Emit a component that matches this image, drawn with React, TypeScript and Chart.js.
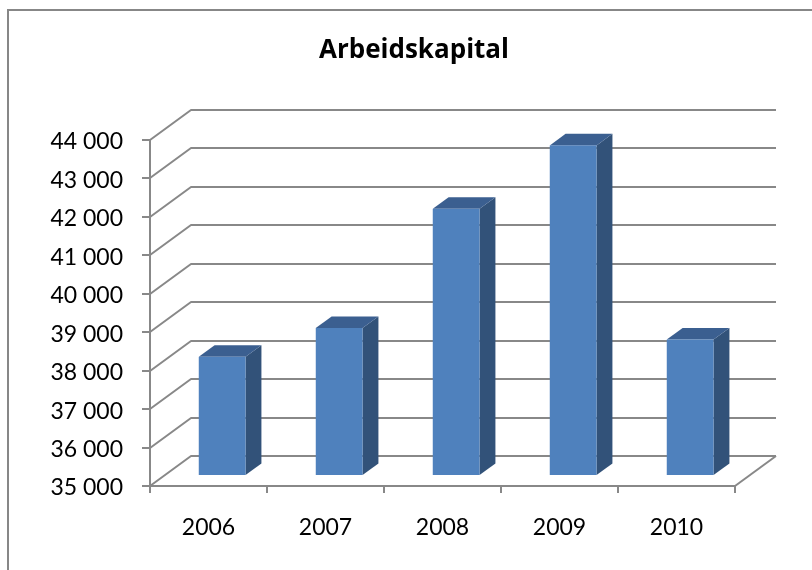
import React, { useEffect, useRef } from 'react';
import { Chart, registerables } from 'chart.js';

Chart.register(...registerables);

// ---- data ----
const chartTitle = 'Arbeidskapital';
const years = ['2006', '2007', '2008', '2009', '2010'];
const values = [38100, 38850, 41950, 43600, 38550];
const yMin = 35000;
const yMax = 44000;
const yStep = 1000;

// ---- styles ----
const FONT = 'Lato, "Open Sans", sans-serif';
const TITLE_FONT = '"Open Sans", Lato, sans-serif';
const GRID = '#888888';
const FRONT = '#4f81bd';
const SIDE = '#325279';
const TOP = '#3b5f90';
const DX = 41; // depth of the 3D box (x)
const DY = -30; // depth of the 3D box (y)
const BAR_FRONT = 1 / 3;
const BAR_BACK = 0.72;

const fmt = (v: number) =>
  String(Math.round(v)).replace(/\B(?=(\d{3})+(?!\d))/g, ' ');

const threeD = {
  id: 'threeD',
  beforeDraw(chart: any) {
    const ctx = chart.ctx;
    ctx.save();
    ctx.fillStyle = '#ffffff';
    ctx.fillRect(0, 0, chart.width, chart.height);
    // chart frame
    ctx.strokeStyle = '#878787';
    ctx.lineWidth = 2;
    ctx.beginPath();
    ctx.moveTo(8, chart.height + 2);
    ctx.lineTo(8, 10);
    ctx.lineTo(chart.width + 2, 10);
    ctx.stroke();
    // title
    ctx.fillStyle = '#000';
    ctx.font = `bold 26px ${TITLE_FONT}`;
    ctx.textAlign = 'center';
    ctx.textBaseline = 'alphabetic';
    ctx.fillText(chartTitle, 414, 58);
    // walls
    const { left, right, bottom } = chart.chartArea;
    const y = chart.scales.y;
    ctx.strokeStyle = GRID;
    ctx.lineWidth = 2;
    ctx.lineJoin = 'round';
    y.ticks.forEach((t: any) => {
      const py = Math.round(y.getPixelForValue(t.value));
      ctx.beginPath();
      ctx.moveTo(left, py);
      ctx.lineTo(left + DX, py + DY);
      ctx.lineTo(right + DX, py + DY);
      ctx.stroke();
    });
    ctx.beginPath();
    ctx.moveTo(right, bottom);
    ctx.lineTo(right + DX, bottom + DY);
    ctx.stroke();
    ctx.restore();
  },
  afterDatasetsDraw(chart: any) {
    const ctx = chart.ctx;
    const meta = chart.getDatasetMeta(0);
    const fx = DX * BAR_FRONT;
    const fy = DY * BAR_FRONT;
    const bx = DX * (BAR_BACK - BAR_FRONT);
    const by = DY * (BAR_BACK - BAR_FRONT);
    ctx.save();
    meta.data.forEach((el: any) => {
      const { x, y, base, width } = el.getProps(['x', 'y', 'base', 'width'], true);
      const l = x - width / 2 + fx;
      const r = x + width / 2 + fx;
      const t = y + fy;
      const b = base + fy;
      // side face
      ctx.fillStyle = SIDE;
      ctx.beginPath();
      ctx.moveTo(r, b);
      ctx.lineTo(r, t);
      ctx.lineTo(r + bx, t + by);
      ctx.lineTo(r + bx, b + by);
      ctx.closePath();
      ctx.fill();
      // top face
      ctx.fillStyle = TOP;
      ctx.beginPath();
      ctx.moveTo(l, t);
      ctx.lineTo(r, t);
      ctx.lineTo(r + bx, t + by);
      ctx.lineTo(l + bx, t + by);
      ctx.closePath();
      ctx.fill();
      // front face
      ctx.fillStyle = FRONT;
      ctx.fillRect(l, t, r - l, b - t);
    });
    ctx.restore();
  },
};

export default function App() {
  const ref = useRef<HTMLCanvasElement>(null);
  useEffect(() => {
    if (!ref.current) return;
    const chart = new Chart(ref.current, {
      type: 'bar',
      data: {
        labels: years,
        datasets: [
          {
            data: values,
            base: yMin,
            backgroundColor: 'rgba(0,0,0,0)',
            borderWidth: 0,
            barPercentage: 0.4,
            categoryPercentage: 1,
          },
        ],
      },
      options: {
        responsive: false,
        animation: false,
        events: [],
        layout: { padding: { left: 8, right: 77, top: 140, bottom: 0 } },
        plugins: {
          legend: { display: false },
          title: { display: false },
          tooltip: { enabled: false },
        },
        scales: {
          x: {
            ticks: { font: { family: FONT, size: 23 }, color: '#000', padding: 21 },
            grid: { drawOnChartArea: false, tickLength: 7, color: GRID, lineWidth: 2, offset: true },
            border: { color: GRID, width: 2 },
            afterFit: (s: any) => {
              s.height = 84;
            },
          },
          y: {
            min: yMin,
            max: yMax,
            ticks: {
              stepSize: yStep,
              callback: (v: any) => fmt(Number(v)),
              font: { family: FONT, size: 23 },
              color: '#000',
              padding: 19,
              labelOffset: 2,
            },
            grid: { drawOnChartArea: false, tickLength: 8, color: GRID, lineWidth: 2 },
            border: { color: GRID, width: 2 },
            afterFit: (s: any) => {
              s.width = 142;
            },
          },
        },
      },
      plugins: [threeD],
    });
    return () => chart.destroy();
  }, []);
  return (
    <canvas
      ref={ref}
      width={812}
      height={570}
      style={{ position: 'fixed', left: 0, top: 0, width: 812, height: 570, display: 'block' }}
    />
  );
}
